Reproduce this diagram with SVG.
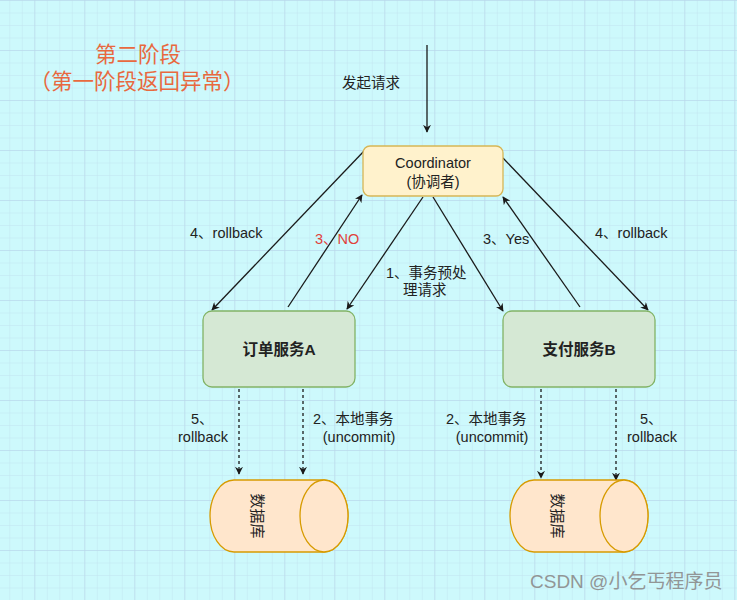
<svg xmlns="http://www.w3.org/2000/svg" width="737" height="600" viewBox="0 0 737 600">
<style>
text{font-family:"Liberation Sans","Noto Sans CJK SC",sans-serif;fill:#222;}
.lbl{font-size:14.5px;}
.title{font-size:21.5px;fill:#e8693f;}
.bold{font-size:15.5px;font-weight:bold;}
.edge{stroke:#1a1a1a;stroke-width:1.3;fill:none;marker-end:url(#arr);}
.dash{stroke:#1a1a1a;stroke-width:1.3;fill:none;stroke-dasharray:3 3;marker-end:url(#arr);}
.svc{fill:#d5e8d4;stroke:#82b366;stroke-width:1.3;}
.db{fill:#ffe6cc;stroke:#d79b00;stroke-width:1.3;}
</style>
<defs>
<pattern id="minor" width="12.5" height="12.5" x="9.3" y="0" patternUnits="userSpaceOnUse">
<path d="M0 0H12.5M0 0V12.5" stroke="#c2e4f0" stroke-width="1" fill="none"/>
</pattern>
<pattern id="major" width="50" height="50" x="34.3" y="0" patternUnits="userSpaceOnUse">
<path d="M0 0H50M0 0V50" stroke="#b6d4ea" stroke-width="1" fill="none"/>
</pattern>
<marker id="arr" viewBox="0 0 10 10" refX="9" refY="5" markerWidth="8" markerHeight="8" markerUnits="userSpaceOnUse" orient="auto">
<path d="M0 0L10 5L0 10L3 5Z" fill="#1a1a1a"/>
</marker>
</defs>
<rect width="737" height="600" fill="#cdf9fc"/>
<rect width="737" height="600" fill="url(#minor)"/>
<rect width="737" height="600" fill="url(#major)"/>

<g id="title">
<text class="title" x="138" y="61.5" text-anchor="middle">第二阶段</text>
<text class="title" x="137" y="88.5" text-anchor="middle">（第一阶段返回异常）</text>
</g>

<g id="connectors">
<line class="edge" x1="427" y1="45" x2="427" y2="132"/>
<line class="edge" x1="365" y1="150" x2="212" y2="310"/>
<line class="edge" x1="288" y1="307" x2="362" y2="195"/>
<line class="edge" x1="423" y1="197" x2="347" y2="309"/>
<line class="edge" x1="433" y1="197" x2="503" y2="311"/>
<line class="edge" x1="580" y1="307" x2="503" y2="197"/>
<line class="edge" x1="503" y1="158" x2="648" y2="310"/>
<line class="dash" x1="239" y1="389" x2="239" y2="474"/>
<line class="dash" x1="303" y1="389" x2="303" y2="474"/>
<line class="dash" x1="541" y1="389" x2="541" y2="478"/>
<line class="dash" x1="616" y1="389" x2="616" y2="480"/>
<text class="lbl" x="342" y="88">发起请求</text>
<text class="lbl" x="190" y="238">4、rollback</text>
<text class="lbl" x="315" y="244" style="fill:#e0413a">3、NO</text>
<text class="lbl" x="386" y="278">1、事务预处</text>
<text class="lbl" x="403" y="295">理请求</text>
<text class="lbl" x="483" y="244">3、Yes</text>
<text class="lbl" x="595" y="238">4、rollback</text>
<text class="lbl" x="191" y="424">5、</text>
<text class="lbl" x="203" y="442" text-anchor="middle">rollback</text>
<text class="lbl" x="313" y="424">2、本地事务</text>
<text class="lbl" x="359" y="442" text-anchor="middle">(uncommit)</text>
<text class="lbl" x="446" y="424">2、本地事务</text>
<text class="lbl" x="492" y="442" text-anchor="middle">(uncommit)</text>
<text class="lbl" x="640" y="424">5、</text>
<text class="lbl" x="652" y="442" text-anchor="middle">rollback</text>
</g>

<g id="coordinator">
<rect x="363" y="146" width="140" height="50" rx="7" fill="#fff2cc" stroke="#d6b656" stroke-width="1.3"/>
<text class="lbl" x="433" y="168" text-anchor="middle">Coordinator</text>
<text class="lbl" x="433" y="187" text-anchor="middle">(协调者)</text>
</g>

<g id="serviceA">
<rect class="svc" x="203" y="311" width="152" height="76" rx="9"/>
<text class="bold" x="279" y="355" text-anchor="middle">订单服务A</text>
</g>

<g id="serviceB">
<rect class="svc" x="503" y="311" width="152" height="76" rx="9"/>
<text class="bold" x="579" y="355" text-anchor="middle">支付服务B</text>
</g>

<g id="dbA">
<path class="db" d="M234 480H324A24 36 0 0 1 324 552H234A24 36 0 0 1 234 480Z"/>
<ellipse class="db" cx="324" cy="516" rx="24" ry="36"/>
<text x="257" y="516" text-anchor="middle" dominant-baseline="central" transform="rotate(90 257 516)" style="font-size:15px">数据库</text>
</g>

<g id="dbB">
<path class="db" d="M534 480H624A24 36 0 0 1 624 552H534A24 36 0 0 1 534 480Z"/>
<ellipse class="db" cx="624" cy="516" rx="24" ry="36"/>
<text x="557" y="516" text-anchor="middle" dominant-baseline="central" transform="rotate(90 557 516)" style="font-size:15px">数据库</text>
</g>

<g id="watermark">
<text x="530" y="588" style="font-size:19px;fill:#8c8c8c;opacity:0.9">CSDN @小乞丐程序员</text>
</g>
</svg>
